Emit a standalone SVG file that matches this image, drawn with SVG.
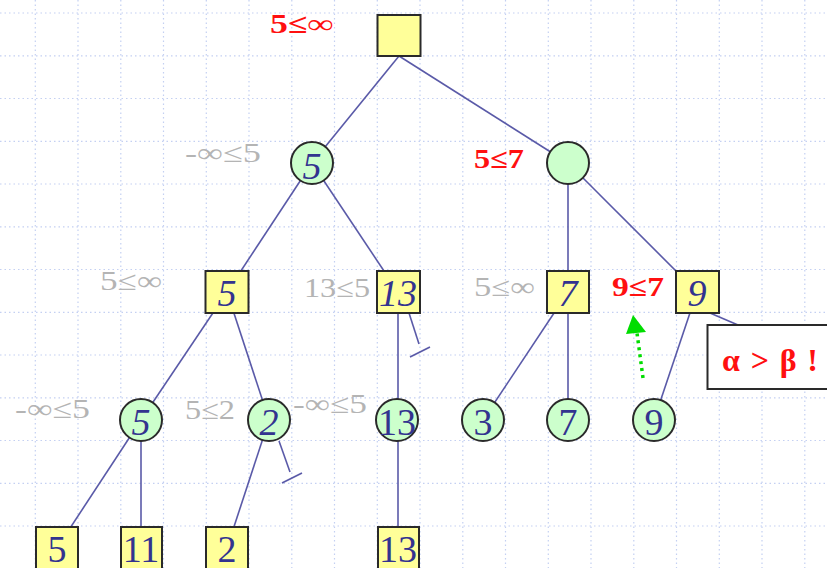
<svg xmlns="http://www.w3.org/2000/svg" width="827" height="568" viewBox="0 0 827 568">
<defs>
<style>
.grid line{stroke:#c4d0f2;stroke-width:1.2;stroke-dasharray:1.5 3}
.edge{stroke:#5a5aa8;stroke-width:1.6;fill:none}
.sq{fill:#ffff99;stroke:#2a2a2a;stroke-width:2}
.ci{fill:#ccffcc;stroke:#2a2a2a;stroke-width:2}
.v{font-family:"Liberation Serif",serif;font-size:38px;fill:#33338f;text-anchor:middle}
.it{font-style:italic}
.g{font-family:"Liberation Serif",serif;font-size:27px;fill:#b4b4b4}
.r{font-family:"Liberation Serif",serif;font-size:27px;fill:#ff1010;font-weight:bold}
</style>
</defs>
<rect width="827" height="568" fill="#ffffff"/>
<g class="grid">
<line x1="35.3" y1="0" x2="35.3" y2="568"/><line x1="78" y1="0" x2="78" y2="568"/><line x1="120.8" y1="0" x2="120.8" y2="568"/><line x1="163.5" y1="0" x2="163.5" y2="568"/><line x1="206.3" y1="0" x2="206.3" y2="568"/><line x1="249" y1="0" x2="249" y2="568"/><line x1="291.8" y1="0" x2="291.8" y2="568"/><line x1="334.5" y1="0" x2="334.5" y2="568"/><line x1="377.3" y1="0" x2="377.3" y2="568"/><line x1="420" y1="0" x2="420" y2="568"/><line x1="462.8" y1="0" x2="462.8" y2="568"/><line x1="505.5" y1="0" x2="505.5" y2="568"/><line x1="548.3" y1="0" x2="548.3" y2="568"/><line x1="591" y1="0" x2="591" y2="568"/><line x1="633.8" y1="0" x2="633.8" y2="568"/><line x1="676.5" y1="0" x2="676.5" y2="568"/><line x1="719.3" y1="0" x2="719.3" y2="568"/><line x1="762" y1="0" x2="762" y2="568"/><line x1="804.8" y1="0" x2="804.8" y2="568"/>
<line x1="0" y1="13" x2="827" y2="13"/><line x1="0" y1="55.8" x2="827" y2="55.8"/><line x1="0" y1="98.5" x2="827" y2="98.5"/><line x1="0" y1="141.3" x2="827" y2="141.3"/><line x1="0" y1="184" x2="827" y2="184"/><line x1="0" y1="226.8" x2="827" y2="226.8"/><line x1="0" y1="269.5" x2="827" y2="269.5"/><line x1="0" y1="312.3" x2="827" y2="312.3"/><line x1="0" y1="355" x2="827" y2="355"/><line x1="0" y1="397.8" x2="827" y2="397.8"/><line x1="0" y1="440.5" x2="827" y2="440.5"/><line x1="0" y1="483.3" x2="827" y2="483.3"/><line x1="0" y1="526" x2="827" y2="526"/>
</g>
<g id="connectors" class="edge">
<line x1="399" y1="56" x2="312" y2="163"/>
<line x1="399" y1="56" x2="568" y2="163"/>
<line x1="312" y1="163" x2="227" y2="292"/>
<line x1="312" y1="163" x2="398" y2="292"/>
<line x1="568" y1="163" x2="568" y2="292"/>
<line x1="568" y1="163" x2="697" y2="292"/>
<line x1="227" y1="292" x2="141" y2="420"/>
<line x1="227" y1="292" x2="269" y2="420"/>
<line x1="398" y1="292" x2="398" y2="420"/>
<line x1="409" y1="313" x2="419" y2="344"/>
<line x1="410" y1="357" x2="430" y2="347"/>
<line x1="568" y1="292" x2="483" y2="420"/>
<line x1="568" y1="292" x2="568" y2="420"/>
<line x1="697" y1="292" x2="654" y2="420"/>
<line x1="710" y1="313" x2="738" y2="325"/>
<line x1="141" y1="420" x2="57" y2="548"/>
<line x1="141" y1="420" x2="141" y2="548"/>
<line x1="269" y1="420" x2="227" y2="548"/>
<line x1="279" y1="441" x2="290" y2="472"/>
<line x1="282" y1="483" x2="302" y2="473"/>
<line x1="398" y1="420" x2="398" y2="548"/>
</g>
<g id="n-root"><rect class="sq" x="377.5" y="15" width="43" height="41"/></g>
<g id="n-a"><circle class="ci" cx="312" cy="163" r="21"/><text class="v it" x="312" y="179">5</text></g>
<g id="n-b"><circle class="ci" cx="568" cy="163" r="21"/></g>
<g id="n-a1"><rect class="sq" x="205.5" y="271" width="43" height="42"/><text class="v it" x="227" y="306">5</text></g>
<g id="n-a2"><rect class="sq" x="377" y="271" width="43" height="42"/><text class="v it" x="398" y="306">13</text></g>
<g id="n-b1"><rect class="sq" x="547" y="271" width="42" height="42"/><text class="v it" x="568" y="306">7</text></g>
<g id="n-b2"><rect class="sq" x="676" y="271" width="43" height="42"/><text class="v it" x="697" y="306">9</text></g>
<g id="n-c1"><circle class="ci" cx="141" cy="420" r="21"/><text class="v it" x="141" y="435">5</text></g>
<g id="n-c2"><circle class="ci" cx="269" cy="420" r="21"/><text class="v it" x="269" y="435">2</text></g>
<g id="n-c3"><circle class="ci" cx="397" cy="420" r="21"/><text class="v" x="397" y="435">13</text></g>
<g id="n-c4"><circle class="ci" cx="483" cy="420" r="21"/><text class="v" x="483" y="435">3</text></g>
<g id="n-c5"><circle class="ci" cx="568" cy="420" r="21"/><text class="v" x="568" y="435">7</text></g>
<g id="n-c6"><circle class="ci" cx="654" cy="420" r="21"/><text class="v" x="654" y="435">9</text></g>
<g id="n-d1"><rect class="sq" x="36" y="527" width="42" height="45"/><text class="v" x="57" y="562">5</text></g>
<g id="n-d2"><rect class="sq" x="121" y="527" width="41" height="45"/><text class="v" x="141" y="562">11</text></g>
<g id="n-d3"><rect class="sq" x="206" y="527" width="42" height="45"/><text class="v" x="227" y="562">2</text></g>
<g id="n-d4"><rect class="sq" x="378" y="527" width="41" height="45"/><text class="v" x="398" y="562">13</text></g>
<g id="labels">
<text class="r" x="270" y="33" textLength="63" lengthAdjust="spacingAndGlyphs">5≤∞</text>
<text class="g" x="185" y="162" textLength="76" lengthAdjust="spacingAndGlyphs">-∞≤5</text>
<text class="r" x="474" y="168" textLength="50" lengthAdjust="spacingAndGlyphs">5≤7</text>
<text class="g" x="100" y="290" textLength="62" lengthAdjust="spacingAndGlyphs">5≤∞</text>
<text class="g" x="304" y="297" textLength="66" lengthAdjust="spacingAndGlyphs">13≤5</text>
<text class="g" x="474" y="296" textLength="61" lengthAdjust="spacingAndGlyphs">5≤∞</text>
<text class="r" x="612" y="296" textLength="52" lengthAdjust="spacingAndGlyphs">9≤7</text>
<text class="g" x="15" y="418" textLength="75" lengthAdjust="spacingAndGlyphs">-∞≤5</text>
<text class="g" x="185" y="419" textLength="50" lengthAdjust="spacingAndGlyphs">5≤2</text>
<text class="g" x="293" y="413" textLength="74" lengthAdjust="spacingAndGlyphs">-∞≤5</text>
</g>
<g id="n-note"><rect x="707.5" y="325" width="125" height="64" fill="#ffffff" stroke="#2a2a2a" stroke-width="2"/><text x="722" y="371" font-family="Liberation Serif,serif" font-size="32" font-weight="bold" fill="#ff1010" textLength="96" lengthAdjust="spacing">α &gt; β !</text></g>
<g id="arrow"><line x1="643" y1="378" x2="637" y2="333" stroke="#00dd00" stroke-width="3.5" stroke-dasharray="3 4"/><polygon points="633,315 626,334 646,332" fill="#00dd00"/></g>
</svg>
